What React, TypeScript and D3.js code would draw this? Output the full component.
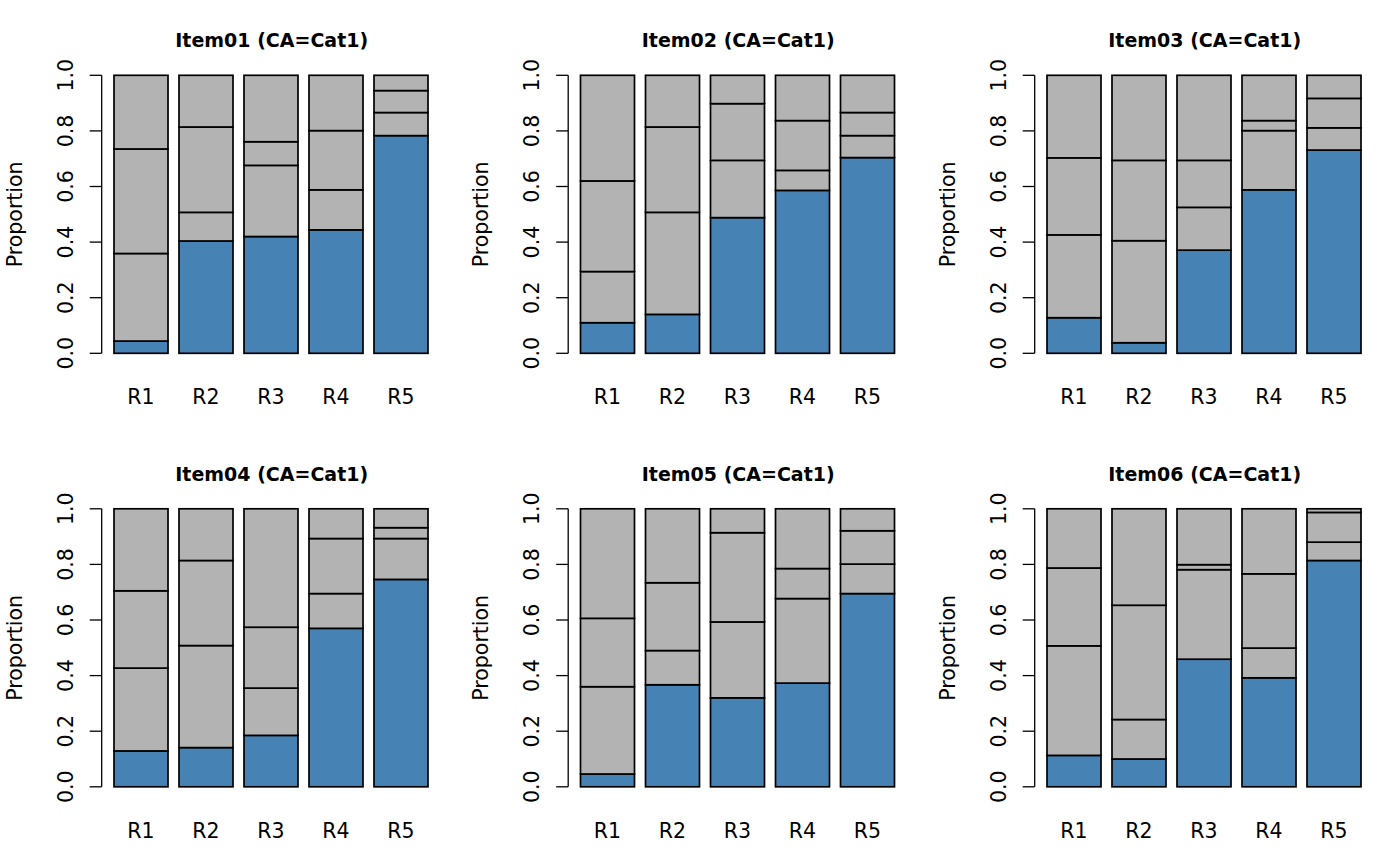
import React from 'react'
import * as d3 from 'd3'

// bar labels and panel titles
const groups = ['R1', 'R2', 'R3', 'R4', 'R5']
const items = ['Item01', 'Item02', 'Item03', 'Item04', 'Item05', 'Item06']
const cats = ['Cat1', 'Cat2', 'Cat3', 'Cat4']
const yTicks = [0, 0.2, 0.4, 0.6, 0.8, 1.0]

// proportions per bar (Cat1..Cat4)
const item01 = [
  [0.044, 0.315, 0.376, 0.265],
  [0.404, 0.103, 0.307, 0.186],
  [0.42, 0.256, 0.085, 0.239],
  [0.444, 0.144, 0.213, 0.199],
  [0.783, 0.083, 0.079, 0.055],
]
const item02 = [
  [0.11, 0.184, 0.326, 0.38],
  [0.14, 0.367, 0.307, 0.186],
  [0.488, 0.206, 0.204, 0.102],
  [0.586, 0.072, 0.179, 0.163],
  [0.704, 0.079, 0.083, 0.134],
]
const item03 = [
  [0.128, 0.298, 0.277, 0.297],
  [0.038, 0.367, 0.289, 0.306],
  [0.371, 0.154, 0.169, 0.306],
  [0.588, 0.213, 0.036, 0.163],
  [0.731, 0.08, 0.106, 0.083],
]
const item04 = [
  [0.129, 0.298, 0.278, 0.295],
  [0.141, 0.367, 0.306, 0.186],
  [0.185, 0.17, 0.219, 0.426],
  [0.57, 0.125, 0.198, 0.107],
  [0.746, 0.147, 0.039, 0.068],
]
const item05 = [
  [0.046, 0.314, 0.246, 0.394],
  [0.367, 0.123, 0.244, 0.266],
  [0.32, 0.273, 0.321, 0.086],
  [0.373, 0.304, 0.108, 0.215],
  [0.695, 0.106, 0.12, 0.079],
]
const item06 = [
  [0.113, 0.394, 0.28, 0.213],
  [0.1, 0.142, 0.411, 0.347],
  [0.459, 0.322, 0.018, 0.201],
  [0.392, 0.107, 0.267, 0.234],
  [0.814, 0.066, 0.107, 0.013],
]
const itemData = [item01, item02, item03, item04, item05, item06]

const FONT = 'DejaVu Sans, sans-serif'

const Panel = ({ name, data, ox, oy }: { name: string; data: number[][]; ox: number; oy: number }) => {
  const plotH = 278
  const y = d3.scaleLinear().domain([0, 1]).range([plotH, 0])
  // 54px bars on a 65px step
  const x = d3.scaleBand().domain(groups).range([12.3, 12.3 + 65 * 5 - 11]).paddingInner(11 / 65).paddingOuter(0)
  const rows = data.map((d) => {
    const o: any = {}
    cats.forEach((c, i) => (o[c] = d[i]))
    return o
  })
  const series = d3.stack().keys(cats)(rows)

  return (
    <g transform={`translate(${ox},${oy})`}>
      <text x={170} y={-28} textAnchor="middle" fontWeight="bold" fontSize={19} fontFamily={FONT}>
        {name} (CA=Cat1)
      </text>
      {series.map((s, si) =>
        s.map((d, i) => (
          <rect
            key={si + '-' + i}
            x={x(groups[i])}
            y={y(d[1])}
            width={x.bandwidth()}
            height={y(d[0]) - y(d[1])}
            fill={si === 0 ? '#4682B4' : '#B3B3B3'}
            stroke="#000"
            strokeWidth={1.7}
          />
        ))
      )}
      <line x1={0} x2={0} y1={y(0)} y2={y(1)} stroke="#000" strokeWidth={1.3} />
      {yTicks.map((t) => (
        <g key={t} transform={`translate(0,${y(t)})`}>
          <line x1={-12} x2={0} stroke="#000" strokeWidth={1.3} />
          <text transform={`translate(-29,0) rotate(-90)`} textAnchor="middle" fontSize={20.5} fontFamily={FONT}>
            {t.toFixed(1)}
          </text>
        </g>
      ))}
      {groups.map((g) => (
        <text key={g} x={(x(g) as number) + x.bandwidth() / 2} y={plotH + 51} textAnchor="middle" fontSize={20.5} fontFamily={FONT}>
          {g}
        </text>
      ))}
      <text transform={`translate(-80,${plotH / 2}) rotate(-90)`} textAnchor="middle" fontSize={20.5} fontFamily={FONT}>
        Proportion
      </text>
    </g>
  )
}

export default function App() {
  return (
    <svg width={1400} height={866} style={{ position: 'absolute', left: 0, top: 0, background: '#fff' }}>
      <rect width={1400} height={866} fill="#fff" />
      {items.map((name, i) => (
        <Panel key={name} name={name} data={itemData[i]} ox={101.7 + (i % 3) * 466.5} oy={75.3 + Math.floor(i / 3) * 433.5} />
      ))}
    </svg>
  )
}
